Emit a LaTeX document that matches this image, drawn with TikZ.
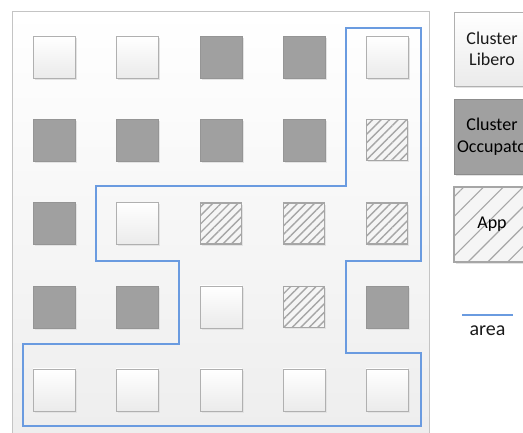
\documentclass[tikz,border=0pt]{standalone}
\usepackage{fontspec}
\setmainfont{Carlito}
\usetikzlibrary{patterns.meta,shadows}
\definecolor{frameg}{HTML}{C4C4C4}
\definecolor{freeb}{HTML}{B0B0B0}
\definecolor{busyf}{HTML}{A0A0A0}
\definecolor{busyb}{HTML}{959595}
\definecolor{hatchc}{HTML}{A6A6A6}
\definecolor{areab}{HTML}{6A9BE0}
\definecolor{txt}{HTML}{1A1A1A}
\tikzset{
  x=1pt, y=-1pt,
  sh/.style={general shadow={fill=black!11, shadow xshift=1.6pt, shadow yshift=-1.6pt}},
  freebox/.style={sh, draw=freeb, line width=0.8pt, top color=white, bottom color=black!8, minimum size=42pt, inner sep=0pt},
  busybox/.style={sh, draw=busyb, line width=0.8pt, fill=busyf, minimum size=42pt, inner sep=0pt},
  appbox/.style={sh, draw=hatchc, line width=1.7pt, preaction={fill=black!4}, pattern={Lines[angle=45,distance=6pt,line width=1.4pt]}, pattern color=hatchc, minimum size=41pt, inner sep=0pt},
  legtext/.style={text=txt, font=\fontsize{18}{21.5}\selectfont, align=center},
  areal/.style={draw=areab, line width=1.5pt},
}
\begin{document}
\begin{tikzpicture}
\useasboundingbox (0,0) rectangle (523,433);
\clip (0,0) rectangle (523,433);
% main frame
\path[draw=frameg, line width=0.9pt, top color=white, bottom color=black!7] (12,11) rectangle (429,450);
% grid of squares
\foreach \r/\y in {1/57,2/140,3/223.5,4/307,5/390}{
  \foreach \c/\x in {1/54,2/137,3/221,4/304,5/387}{
    \coordinate (p\r\c) at (\x,\y);
  }
}
\node[freebox] (s11) at (p11) {};
\node[freebox] (s12) at (p12) {};
\node[busybox] (s13) at (p13) {};
\node[busybox] (s14) at (p14) {};
\node[freebox] (s15) at (p15) {};
\node[busybox] (s21) at (p21) {};
\node[busybox] (s22) at (p22) {};
\node[busybox] (s23) at (p23) {};
\node[busybox] (s24) at (p24) {};
\node[appbox] (s25) at (p25) {};
\node[busybox] (s31) at (p31) {};
\node[freebox] (s32) at (p32) {};
\node[appbox] (s33) at (p33) {};
\node[appbox] (s34) at (p34) {};
\node[appbox] (s35) at (p35) {};
\node[busybox] (s41) at (p41) {};
\node[busybox] (s42) at (p42) {};
\node[freebox] (s43) at (p43) {};
\node[appbox] (s44) at (p44) {};
\node[busybox] (s45) at (p45) {};
\node[freebox] (s51) at (p51) {};
\node[freebox] (s52) at (p52) {};
\node[freebox] (s53) at (p53) {};
\node[freebox] (s54) at (p54) {};
\node[freebox] (s55) at (p55) {};
% area outline
\draw[areal, line join=miter] (346,28) -- (421,28) -- (421,261) -- (346,261) -- (346,353) -- (421,353) -- (421,426) -- (23,426) -- (23,344) -- (179,344) -- (179,261) -- (96,261) -- (96,186) -- (346,186) -- cycle;
% legend
\node[freebox, general shadow={}, minimum width=76pt, minimum height=74pt, legtext] (lfree) at (492,49) {Cluster\\Libero};
\node[busybox, draw=black!45, general shadow={}, minimum width=76pt, minimum height=75pt, legtext, text=black] (lbusy) at (492,136.5) {Cluster\\Occupato};
\node[appbox, general shadow={}, pattern={Lines[angle=45,distance=14pt,line width=1.1pt]}, minimum width=76pt, minimum height=75pt, legtext, text=black] (lapp) at (492,224.5) {App};
\coordinate (la) at (462,315);
\coordinate (lb) at (513,315);
\draw[areal, line width=1.3pt] (la) -- (lb);
\node[legtext, font=\fontsize{20}{24}\selectfont, anchor=base] (larea) at (487.5,335.5) {area};
\end{tikzpicture}
\end{document}
